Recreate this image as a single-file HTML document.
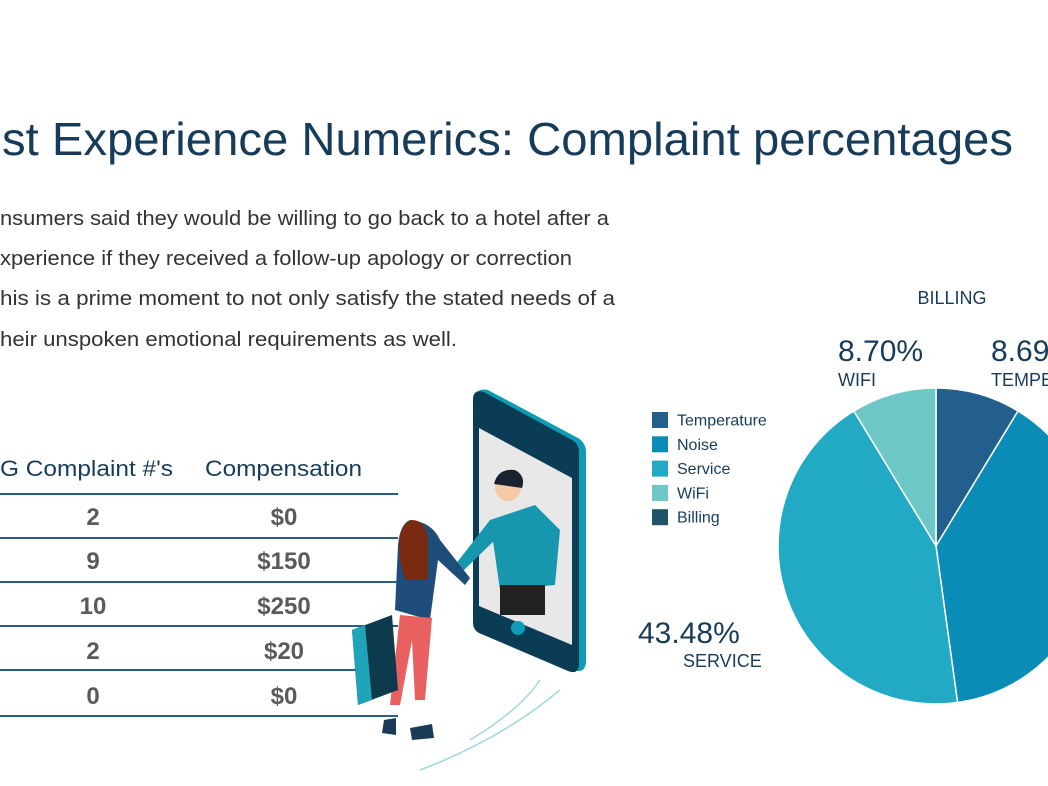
<!DOCTYPE html>
<html><head><meta charset="utf-8"><style>
html,body{margin:0;padding:0;background:#fff;width:1048px;height:786px;overflow:hidden}
svg{display:block;font-family:"Liberation Sans",sans-serif}
</style></head><body>
<svg id="root" width="1048" height="786" viewBox="0 0 1048 786">
<text x="2" y="155" font-size="46" fill="#173c5a" textLength="1011" lengthAdjust="spacingAndGlyphs">st Experience Numerics: Complaint percentages</text>
<g fill="#333" font-size="20">
<text x="0" y="225" textLength="609" lengthAdjust="spacingAndGlyphs">nsumers said they would be willing to go back to a hotel after a</text>
<text x="0" y="265" textLength="572" lengthAdjust="spacingAndGlyphs">xperience if they received a follow-up apology or correction</text>
<text x="0" y="305" textLength="615" lengthAdjust="spacingAndGlyphs">his is a prime moment to not only satisfy the stated needs of a</text>
<text x="0" y="346" textLength="457" lengthAdjust="spacingAndGlyphs">heir unspoken emotional requirements as well.</text>
</g>
<g>
<text x="0" y="476" font-size="22" fill="#173c5a" textLength="173" lengthAdjust="spacingAndGlyphs">G Complaint #'s</text>
<text x="205" y="476" font-size="22" fill="#173c5a" textLength="157" lengthAdjust="spacingAndGlyphs">Compensation</text>
<g stroke="#2a5d8c" stroke-width="2">
<line x1="0" y1="494" x2="398" y2="494"/><line x1="0" y1="538" x2="398" y2="538"/><line x1="0" y1="582" x2="398" y2="582"/><line x1="0" y1="626" x2="398" y2="626"/><line x1="0" y1="670" x2="398" y2="670"/><line x1="0" y1="716" x2="398" y2="716"/>
</g>
<g font-size="24" font-weight="bold" fill="#5a5a5a" text-anchor="middle">
<text x="93" y="525">2</text><text x="284" y="525">$0</text>
<text x="93" y="569">9</text><text x="284" y="569">$150</text>
<text x="93" y="614">10</text><text x="284" y="614">$250</text>
<text x="93" y="659">2</text><text x="284" y="659">$20</text>
<text x="93" y="704">0</text><text x="284" y="704">$0</text>
</g>
</g>
<g>
<path d="M475,395 Q478,388 488,390 L578,438 Q586,443 586,452 L586,662 Q585,674 574,670 L478,630 Q473,628 473,620 Z" fill="#0f9bb5"/>
<path d="M473,398 Q474,389 484,392 L572,440 Q579,444 579,452 L579,665 Q578,675 568,671 L479,633 Q473,630 473,622 Z" fill="#0a3d55"/>
<path d="M479,428 L572,478 L572,645 L479,606 Z" fill="#e8e8e8"/>
<circle cx="518" cy="628" r="7" fill="#0f9bb5"/>
<path d="M490,520 L535,505 L560,530 L555,585 L500,590 Z" fill="#1797ad"/>
<rect x="500" y="585" width="45" height="30" fill="#222"/>
<circle cx="508" cy="488" r="13" fill="#f4c9a8"/>
<path d="M494,484 Q498,468 515,470 Q526,476 522,488 Z" fill="#1a2230"/>
<path d="M490,520 L455,565 L462,572 L500,535 Z" fill="#1797ad"/>
<path d="M410,520 Q400,524 398,545 L395,610 L430,620 L438,560 L465,585 L470,578 L440,540 Q432,522 410,520 Z" fill="#1e4d7a"/>
<path d="M400,560 Q396,524 412,520 Q426,520 428,540 L428,580 L405,580 Z" fill="#7a2a10"/>
<path d="M400,615 L432,618 L425,700 L415,700 L412,640 L400,705 L390,705 Z" fill="#e86060"/>
<path d="M352,630 L392,615 L398,690 L358,705 Z" fill="#0e3a4d"/>
<path d="M352,630 L365,625 L372,700 L358,705 Z" fill="#1fa3b8"/>
<path d="M384,720 L396,718 L396,735 L382,733 Z M410,728 L432,724 L434,738 L412,740 Z" fill="#183a55"/>
<g stroke="#9dd9dd" stroke-width="1.5" fill="none"><path d="M420,770 Q500,740 560,690"/><path d="M470,740 Q520,710 540,680"/></g>
</g>
<g id="pie"></g>
<g id="legend"></g>
<g fill="#173c5a">
<text x="952" y="304" font-size="18" text-anchor="middle">BILLING</text>
<text x="838" y="361" font-size="30" font-weight="300">8.70%</text>
<text x="838" y="386" font-size="18">WIFI</text>
<text x="991" y="361" font-size="30">8.69%</text>
<text x="991" y="386" font-size="18">TEMPERATURE</text>
<text x="638" y="643" font-size="30">43.48%</text>
<text x="683" y="667" font-size="18">SERVICE</text>
</g>
</svg>
<script>
const categories = ["Temperature","Noise","Service","WiFi","Billing"];
const values = [8.69, 39.13, 43.48, 8.70, 0];
const colors = ["#235f8c","#0a8cb7","#22aac4","#6cc7c6","#1d5468"];
const NS="http://www.w3.org/2000/svg";
const cx=936, cy=546, r=158;
const total=values.reduce((a,b)=>a+b,0);
function pt(frac){const a=frac*2*Math.PI;return [cx+r*Math.sin(a), cy-r*Math.cos(a)];}
const pie=document.getElementById('pie');
let acc=0;
values.forEach((v,i)=>{
  if(v<=0){return;}
  const s=acc/total, e=(acc+v)/total; acc+=v;
  const [x1,y1]=pt(s),[x2,y2]=pt(e);
  const p=document.createElementNS(NS,'path');
  p.setAttribute('d',`M${cx},${cy} L${x1},${y1} A${r},${r} 0 ${e-s>0.5?1:0} 1 ${x2},${y2} Z`);
  p.setAttribute('fill',colors[i]);p.setAttribute('stroke','#fff');p.setAttribute('stroke-width','1.5');
  
  
  pie.appendChild(p);
});
const lg=document.getElementById('legend');
categories.forEach((c,i)=>{
  const g=document.createElementNS(NS,'g');
  
  
  const y=412+i*24.3;
  const rc=document.createElementNS(NS,'rect');
  rc.setAttribute('x',652);rc.setAttribute('y',y);rc.setAttribute('width',16);rc.setAttribute('height',16);rc.setAttribute('fill',colors[i]);
  const t=document.createElementNS(NS,'text');
  t.setAttribute('x',677);t.setAttribute('y',y+13.5);t.setAttribute('font-size','16');t.setAttribute('fill','#173c5a');t.textContent=c;
  g.appendChild(rc);g.appendChild(t);lg.appendChild(g);
});
</script>
</body></html>
